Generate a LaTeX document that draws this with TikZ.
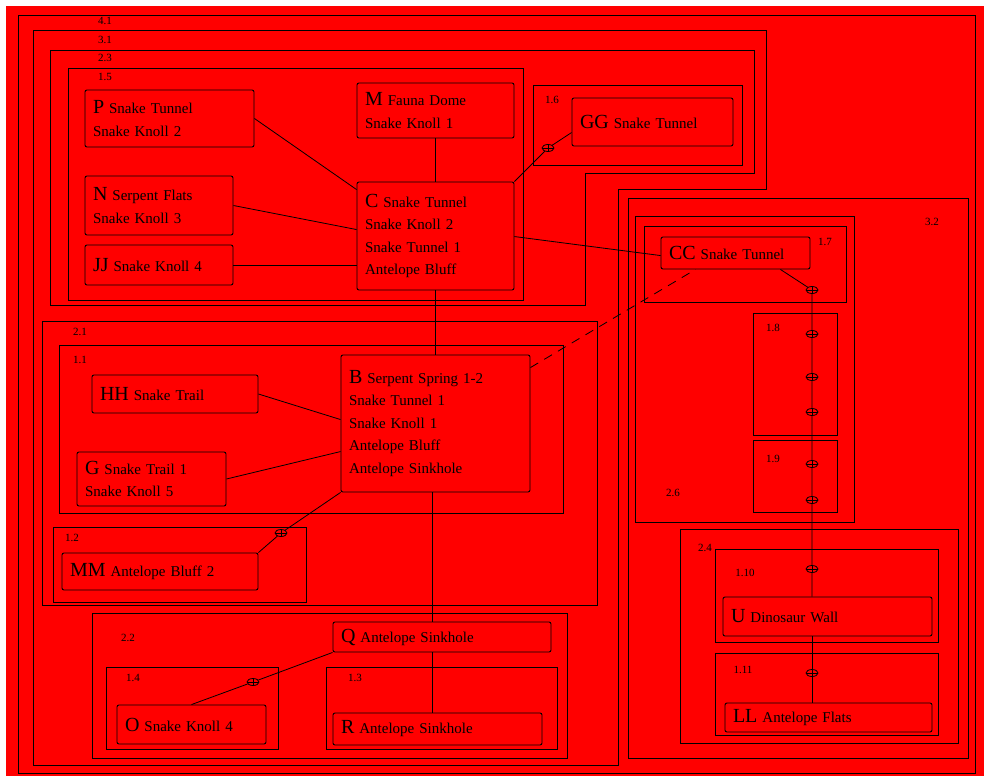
\documentclass[tikz,border=0pt]{standalone}
\usepackage{fontspec}
\setmainfont{Liberation Serif}
\usetikzlibrary{shapes.geometric,calc}
\newcommand\idf{\fontsize{20}{22.5}\selectfont}
\newcommand\bdf{\fontsize{15}{22.5}\selectfont}
\newcommand\mybox[6]{%
 \pgfmathsetmacro\bw{#4-#2}%
 \pgfmathsetmacro\bh{#5-#3}%
 \pgfmathsetmacro\tw{#4-#2-16}%
 \pgfmathsetmacro\bx{(#2+#4)/2}%
 \pgfmathsetmacro\by{(#3+#5)/2}%
 \node[nbox, minimum width=\bw pt, minimum height=\bh pt, text width=\tw pt] (#1) at (\bx,\by) {#6};}
\tikzset{
 nbox/.style={draw=black, line width=0.9pt, rounded corners=2pt, inner xsep=8pt, inner ysep=2pt, align=left, font=\bdf},
 clus/.style={draw=black, line width=0.9pt},
 clab/.style={font=\fontsize{11}{12}\selectfont, inner sep=0pt},
 link/.style={draw=black, line width=0.8pt},
 mk/.style={draw=black, ellipse, line width=0.8pt, minimum width=12pt, minimum height=7pt, inner sep=0pt,
   path picture={\draw[line width=0.6pt] (path picture bounding box.west) -- (path picture bounding box.east)
   (path picture bounding box.north) -- (path picture bounding box.south);}},
}
\begin{document}
\begin{tikzpicture}[x=1pt,y=-1pt]
\useasboundingbox (0,0) rectangle (984,776);
\fill[red] (6,6) rectangle (984,776);
% clusters
\draw[clus] (18,15) rectangle (975,773);
\draw[clus] (33,30) -- (766,30) -- (766,189) -- (618,189) -- (618,765) -- (33,765) -- cycle;
\draw[clus] (50,50) -- (754,50) -- (754,173) -- (585,173) -- (585,305) -- (50,305) -- cycle;
\draw[clus] (68,68) rectangle (523,300);
\draw[clus] (533,85) rectangle (742,165);
\draw[clus] (42,321) rectangle (597,605);
\draw[clus] (59,345) rectangle (563,513);
\draw[clus] (53,527) rectangle (306,602);
\draw[clus] (92,613) rectangle (567,758);
\draw[clus] (106,667) rectangle (278,749);
\draw[clus] (326,667) rectangle (557,749);
\draw[clus] (628,198) rectangle (968,758);
\draw[clus] (635,216) rectangle (854,522);
\draw[clus] (644,226) rectangle (846,302);
\draw[clus] (753,313) rectangle (837,435);
\draw[clus] (753,440) rectangle (837,512);
\draw[clus] (680,529) rectangle (958,743);
\draw[clus] (715,549) rectangle (938,642);
\draw[clus] (715,653) rectangle (938,735);
% cluster labels
\node[clab] (l41) at (105,21) {4.1};
\node[clab] (l31) at (105,40) {3.1};
\node[clab] (l23) at (105,58) {2.3};
\node[clab] (l15) at (105,77) {1.5};
\node[clab] (l16) at (552,100) {1.6};
\node[clab] (l21) at (80,332) {2.1};
\node[clab] (l11) at (80,360) {1.1};
\node[clab] (l12) at (72,538) {1.2};
\node[clab] (l22) at (128,638) {2.2};
\node[clab] (l14) at (133,678) {1.4};
\node[clab] (l13) at (355,678) {1.3};
\node[clab] (l32) at (932,222) {3.2};
\node[clab] (l26) at (673,493) {2.6};
\node[clab] (l17) at (825,242) {1.7};
\node[clab] (l18) at (773,328) {1.8};
\node[clab] (l19) at (773,459) {1.9};
\node[clab] (l24) at (705,548) {2.4};
\node[clab] (l110) at (745,573) {1.10};
\node[clab] (l111) at (743,670) {1.11};
% nodes
\mybox{P}{85}{90}{254}{147}{{\idf P} Snake Tunnel\\Snake Knoll 2}
\mybox{M}{357}{83}{514}{138}{{\idf M} Fauna Dome\\Snake Knoll 1}
\mybox{N}{85}{176}{233}{235}{{\idf N} Serpent Flats\\Snake Knoll 3}
\mybox{JJ}{85}{245}{233}{285}{{\idf JJ} Snake Knoll 4}
\mybox{C}{357}{182}{514}{290}{{\idf C} Snake Tunnel\\Snake Knoll 2\\Snake Tunnel 1\\Antelope Bluff}
\mybox{GG}{572}{98}{733}{146}{{\idf GG} Snake Tunnel}
\mybox{CC}{661}{237}{810}{269}{{\idf CC} Snake Tunnel}
\mybox{HH}{92}{375}{258}{413}{{\idf HH} Snake Trail}
\mybox{G}{77}{452}{226}{506}{{\idf G} Snake Trail 1\\Snake Knoll 5}
\mybox{B}{341}{355}{530}{492}{{\idf B} Serpent Spring 1-2\\Snake Tunnel 1\\Snake Knoll 1\\Antelope Bluff\\Antelope Sinkhole}
\mybox{MM}{62}{553}{258}{590}{{\idf MM} Antelope Bluff 2}
\mybox{Q}{333}{622}{551}{652}{{\idf Q} Antelope Sinkhole}
\mybox{O}{117}{705}{266}{744}{{\idf O} Snake Knoll 4}
\mybox{R}{333}{713}{542}{745}{{\idf R} Antelope Sinkhole}
\mybox{U}{723}{597}{932}{636}{{\idf U} Dinosaur Wall}
\mybox{LL}{725}{703}{932}{732}{{\idf LL} Antelope Flats}
% markers
\node[mk] (mGG) at (548,148) {};
\node[mk] (mMM) at (281,533) {};
\node[mk] (mO) at (253,682) {};
\node[mk] (m1) at (812,290) {};
\node[mk] (m2) at (812,334) {};
\node[mk] (m3) at (812,377) {};
\node[mk] (m4) at (812,412) {};
\node[mk] (m5) at (812,464) {};
\node[mk] (m6) at (812,500) {};
\node[mk] (m7) at (812,569) {};
\node[mk] (m8) at (812,673) {};
% edges
\draw[link] (P.east) -- ([yshift=-8pt]C.north west);
\draw[link] (M.south) -- (C.north);
\draw[link] (N.east) -- ([yshift=-48pt]C.north west);
\draw[link] (JJ.east) -- (C.west |- JJ.east);
\draw[link] (C.north east) -- (mGG) -- ([yshift=-35pt]GG.north west);
\draw[link] ([yshift=-55pt]C.north east) -- ([yshift=-19pt]CC.north west);
\draw[link] (C.south) -- (B.north);
\draw[link, dashed, dash pattern=on 9pt off 7pt] ([yshift=-13pt]B.north east) -- ([xshift=-40pt]CC.south);
\draw[link] (HH.east) -- ([yshift=-65pt]B.north west);
\draw[link] (G.east) -- ([yshift=-97pt]B.north west);
\draw[link] (B.south west) -- (mMM) -- (MM.north east);
\draw[link] ([xshift=-3.5pt]B.south) -- ([xshift=-3.5pt]B.south |- Q.north);
\draw[link] (Q.south west) -- (mO) -- (O.north);
\draw[link] ([xshift=-10pt]Q.south) -- ([xshift=-10pt]Q.south |- R.north);
\draw[link] ([xshift=-30pt]CC.south east) -- (m1) -- (m2) -- (m3) -- (m4) -- (m5) -- (m6) -- (m7) -- (m7 |- U.north);
\draw[link] (m8 |- U.south) -- (m8) -- (m8 |- LL.north);
\end{tikzpicture}
\end{document}
